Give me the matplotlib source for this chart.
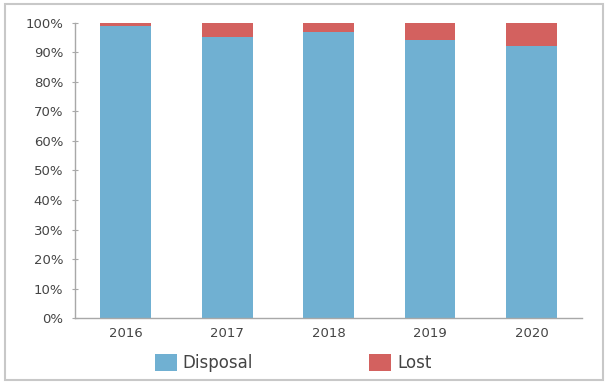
import matplotlib
matplotlib.use("Agg")
import matplotlib.pyplot as plt
from matplotlib.patches import Rectangle
from matplotlib.ticker import PercentFormatter

years = ["2016", "2017", "2018", "2019", "2020"]
disposal = [99, 95, 97, 94, 92]
lost = [1, 5, 3, 6, 8]

blue = "#70B0D2"
red = "#D3615F"
axis_gray = "#A8A8A8"
text_gray = "#444444"

fig = plt.figure(figsize=(6.08, 3.83), dpi=100)
ax = fig.add_axes([0.1234, 0.169, 0.834, 0.7717])

x = range(len(years))
ax.bar(x, disposal, width=0.5, color=blue, label="Disposal")
ax.bar(x, lost, width=0.5, bottom=disposal, color=red, label="Lost")

ax.set_xlim(-0.5, 4.5)
ax.set_ylim(0, 100)
ax.set_yticks(range(0, 101, 10))
ax.yaxis.set_major_formatter(PercentFormatter(decimals=0))
ax.set_xticks(list(x))
ax.set_xticklabels(years)

for side in ("top", "right"):
    ax.spines[side].set_visible(False)
for side in ("left", "bottom"):
    ax.spines[side].set_color(axis_gray)
    ax.spines[side].set_linewidth(1.0)

ax.tick_params(axis="y", direction="inout", length=5, width=0.8, color=axis_gray,
               labelsize=9.5, labelcolor=text_gray, pad=6)
ax.tick_params(axis="x", length=0, labelsize=9.5, labelcolor=text_gray, pad=6)

fig.legend(loc="center", bbox_to_anchor=(0.482, 0.052), ncol=2, frameon=False,
           fontsize=12, handlelength=1.32, handleheight=1.2, handletextpad=0.35,
           columnspacing=7.0, labelcolor=text_gray)

# light frame around the whole figure
fig.patches.append(Rectangle((0.008, 0.008), 0.984, 0.982, transform=fig.transFigure,
                             fill=False, edgecolor="#C8C8C8", linewidth=1.5))

fig.savefig("out.png", dpi=100)
